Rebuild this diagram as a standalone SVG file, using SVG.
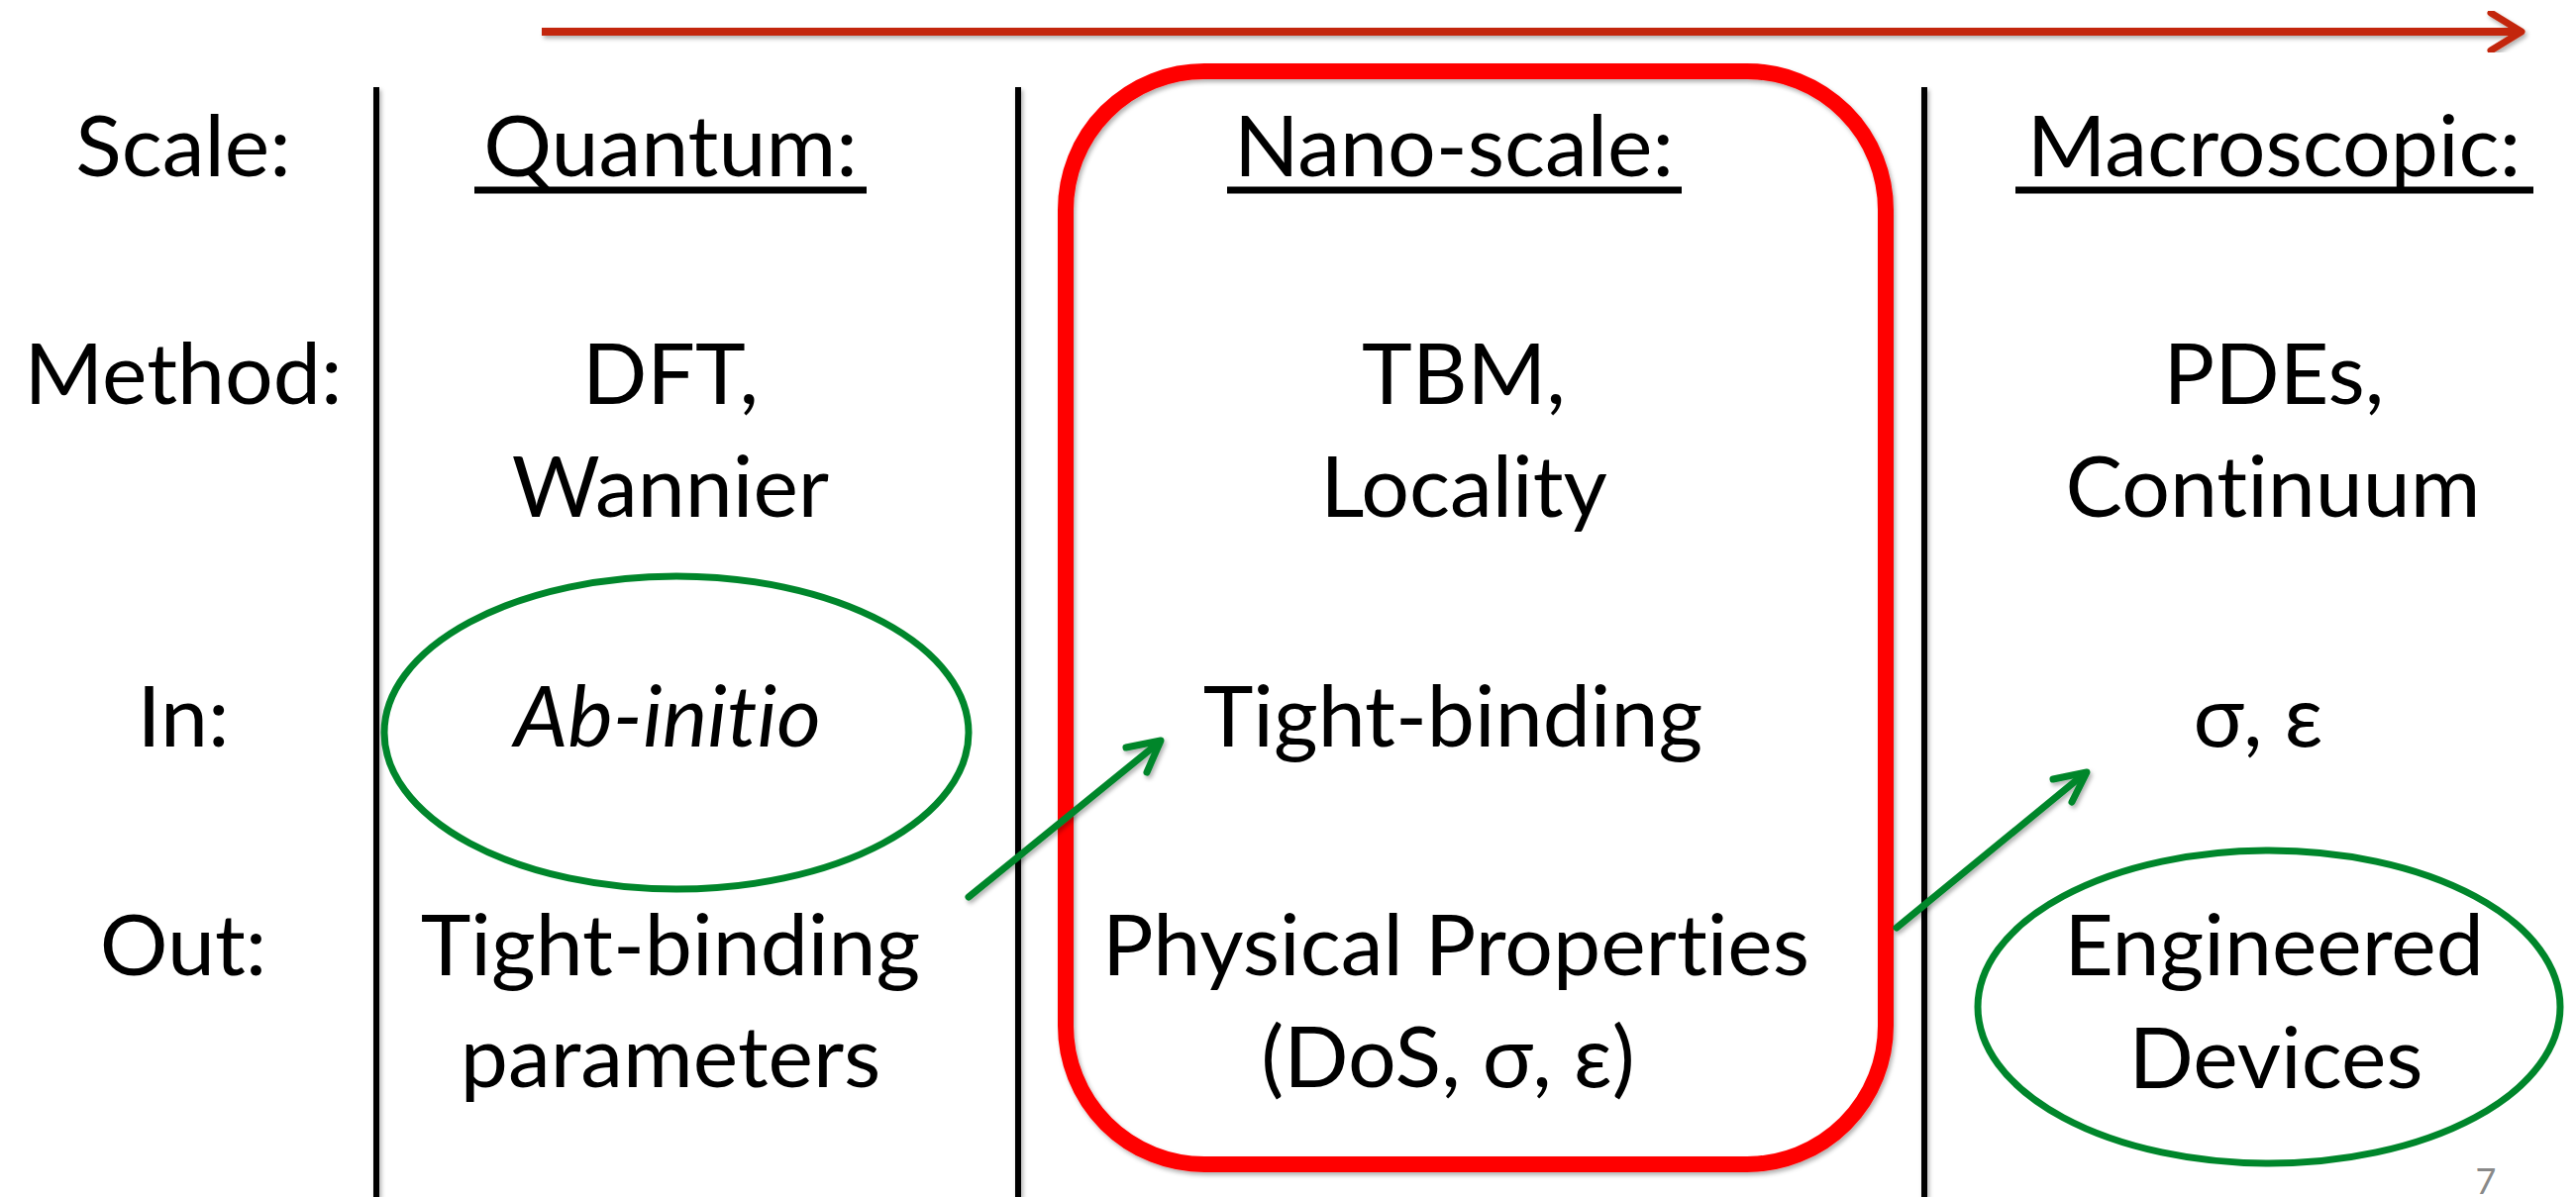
<svg xmlns="http://www.w3.org/2000/svg" width="2601" height="1209" viewBox="0 0 2601 1209">
<style>
  text { font-family: Lato, "Open Sans", "Noto Sans", sans-serif; font-size: 86px; fill: #000; text-anchor: middle; font-variant-ligatures: none; font-feature-settings: "liga" 0, "clig" 0; }
  .it { font-style: italic; }
  .ul { stroke: #000; stroke-width: 7; }
  .div { stroke: #000; stroke-width: 6; fill: none; }
  .green { stroke: #00862B; stroke-width: 7; fill: none; stroke-linecap: round; stroke-linejoin: round; }
  .pg { font-size: 36px; fill: #898989; }
</style>
<defs>
  <filter id="sh" x="-5%" y="-5%" width="110%" height="110%">
    <feDropShadow dx="2" dy="3" stdDeviation="2" flood-color="#000" flood-opacity="0.3"/>
  </filter>
</defs>
<rect width="2601" height="1209" fill="#fff"/>

<g id="dividers" filter="url(#sh)">
  <line class="div" x1="380" y1="88" x2="380" y2="1209"/>
  <line class="div" x1="1028" y1="88" x2="1028" y2="1209"/>
  <line class="div" x1="1943" y1="88" x2="1943" y2="1209"/>
</g>

<g id="scale-arrow" filter="url(#sh)">
  <line x1="547" y1="32" x2="2545" y2="32" stroke="#C3280B" stroke-width="8"/>
  <polyline points="2515,13 2546,32 2515,51" fill="none" stroke="#C3280B" stroke-width="7" stroke-linecap="round" stroke-linejoin="round"/>
</g>

<g id="nano-box" filter="url(#sh)">
  <rect x="1076" y="72" width="828" height="1104" rx="140" ry="140" fill="none" stroke="#FF0000" stroke-width="16"/>
</g>

<g id="labels">
  <text x="185" y="178">Scale:</text>
  <text x="185" y="408">Method:</text>
  <text x="185" y="754">In:</text>
  <text x="185" y="985">Out:</text>
</g>

<g id="quantum">
  <text x="677" y="178">Quantum:</text>
  <line class="ul" x1="479" y1="192" x2="875" y2="192"/>
  <text x="677" y="408">DFT,</text>
  <text x="677" y="522">Wannier</text>
  <text class="it" x="674" y="754">Ab-initio</text>
  <text x="677" y="985">Tight-binding</text>
  <text x="677" y="1098">parameters</text>
</g>

<g id="nanoscale">
  <text x="1468" y="178">Nano-scale:</text>
  <line class="ul" x1="1239" y1="192" x2="1698" y2="192"/>
  <text x="1478" y="408">TBM,</text>
  <text x="1478" y="522">Locality</text>
  <text x="1467" y="754">Tight-binding</text>
  <text x="1470" y="985">Physical Properties</text>
  <text x="1462" y="1098">(DoS, σ, ε)</text>
</g>

<g id="macroscopic">
  <text x="2296" y="178">Macroscopic:</text>
  <line class="ul" x1="2035" y1="192" x2="2558" y2="192"/>
  <text x="2296" y="408">PDEs,</text>
  <text x="2295" y="522">Continuum</text>
  <text x="2280" y="754">σ, ε</text>
  <text x="2296" y="985">Engineered</text>
  <text x="2298" y="1099">Devices</text>
</g>

<g id="highlights">
  <ellipse id="ab-initio-ellipse" class="green" cx="683" cy="740" rx="295" ry="158"/>
  <ellipse id="devices-ellipse" class="green" cx="2291" cy="1017" rx="294" ry="158"/>
</g>

<g id="connectors" filter="url(#sh)">
  <line class="green" x1="978" y1="906" x2="1170" y2="750"/>
  <polyline class="green" points="1137,755 1172,748 1158,780"/>
  <line class="green" x1="1915" y1="937" x2="2104" y2="782"/>
  <polyline class="green" points="2073,787 2107,780 2092,810"/>
</g>

<text class="pg" x="2510" y="1206">7</text>
</svg>
